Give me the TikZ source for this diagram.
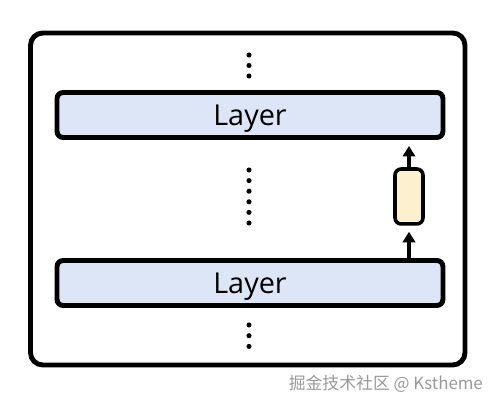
\documentclass[tikz,border=0pt]{standalone}
\usepackage{fontspec}
\usepackage{xcolor}
\usetikzlibrary{arrows.meta}
\newfontfamily\labelfont{Open Sans}
\newfontfamily\cjk{Noto Sans CJK SC}
\definecolor{layerblue}{HTML}{DDE6F7}
\definecolor{cellyellow}{HTML}{FDF0CF}
\tikzset{
  layerbox/.style={draw, line width=2.8pt, rounded corners=3.5pt, fill=layerblue,
    minimum width=7.72cm, minimum height=0.9cm, text depth=0pt,
    font=\labelfont\fontsize{16.4}{19}\selectfont},
  cellbox/.style={draw, line width=2pt, rounded corners=3.5pt, fill=cellyellow,
    minimum width=0.56cm, minimum height=1.1cm},
  uparrow/.style={line width=2pt, -{Triangle[length=6pt,width=7pt]}}
}
\begin{document}
\begin{tikzpicture}[x=0.02cm,y=-0.02cm]
				\useasboundingbox (0,0) rectangle (491,405);
				\draw[line width=2.8pt, rounded corners=7pt] (30.5,33) rectangle (465,365);
				
				\node[layerbox] (upper) at (250,115) {Layer};
				\node[layerbox] (lower) at (250,283) {Layer};
				\node[cellbox] (cell) at (409,196.5) {};
				
				\draw[uparrow, shorten >=0.12cm] (lower.north -| cell) -- (cell.south);
				\draw[uparrow, shorten >=0.12cm] (cell.north) -- (upper.south -| cell);
				
				\foreach \y in {55,65.5,76} {
					\fill (249,\y) circle (1.45pt);
				}
				\foreach \y in {170,180.6,...,224} {
					\fill (249,\y) circle (1.45pt);
				}
				\foreach \y in {325,335.7,346.4} {
					\fill (249,\y) circle (1.45pt);
				}
				
				\node[text=black!40, font=\cjk\fontsize{9.6}{11}\selectfont, anchor=east] (mark) at (489,384) {掘金技术社区 @ Kstheme};
			\end{tikzpicture}
\end{document}
